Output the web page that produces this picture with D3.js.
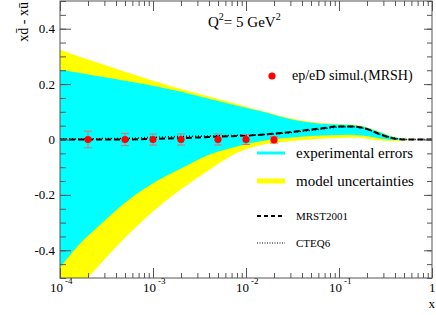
<!DOCTYPE html>
<html>
<head>
<meta charset="utf-8">
<script src="https://cdn.jsdelivr.net/npm/d3@7"></script>
<style>
body { margin: 0; background: #fff; }
svg text { font-family: "Times New Roman", "Liberation Serif", Times, serif; fill: #000; }
</style>
</head>
<body>
<script>
// x grid for bands and curves
var gridX = [1e-4, 1.6e-4, 2.5e-4, 5e-4, 1e-3, 2e-3, 4e-3, 8e-3, 1.6e-2, 3.2e-2, 6.3e-2, 0.1, 0.14, 0.2, 0.28, 0.4, 0.56, 0.8, 1];
var expUpper = [0.252, 0.241, 0.229, 0.212, 0.194, 0.172, 0.147, 0.122, 0.098, 0.071, 0.057, 0.054, 0.052, 0.042, 0.025, 0.007, 0.0005, 0, 0];
var expLower = [-0.462, -0.38, -0.318, -0.228, -0.158, -0.105, -0.055, -0.025, -0.004, 0.007, 0.014, 0.016, 0.017, 0.012, 0.004, -0.002, 0, 0, 0];
var modUpper = [0.324, 0.300, 0.278, 0.245, 0.212, 0.182, 0.155, 0.128, 0.1, 0.075, 0.06, 0.056, 0.054, 0.044, 0.027, 0.008, 0.001, 0, 0];
var modLower = [-0.61, -0.537, -0.463, -0.355, -0.26, -0.18, -0.11, -0.048, -0.017, -0.005, 0.003, 0.005, 0.007, 0.003, -0.004, -0.006, -0.002, 0, 0];
var mrst = [0, 0, 0, 0, 0.002, 0.005, 0.009, 0.013, 0.018, 0.028, 0.04, 0.047, 0.047, 0.038, 0.018, 0.003, 0, 0, 0];
var cteq = [0.002, 0.002, 0.003, 0.004, 0.008, 0.011, 0.013, 0.015, 0.018, 0.026, 0.037, 0.045, 0.046, 0.037, 0.018, 0.004, 0, 0, 0];

// simulated points
var pointX = [2e-4, 5e-4, 1e-3, 2e-3, 5e-3, 1e-2, 2e-2];
var pointY = [0, 0, 0, 0, 0, 0, -0.001];
var pointErr = [0.03, 0.022, 0.02, 0.02, 0.02, 0.018, 0.012];

var xMajor = [1e-4, 1e-3, 1e-2, 1e-1, 1];
var xLabelBase = ["10", "10", "10", "10", "1"];
var xLabelExp = ["-4", "-3", "-2", "-1", ""];
var yMajor = [-0.4, -0.2, 0, 0.2, 0.4];
var yLabels = ["-0.4", "-0.2", "0", "0.2", "0.4"];

function createChart() {
    var W = 436, H = 315;
    var left = 60, right = 432, top = 1, bottom = 278;

    var svg = d3.select("body").append("svg")
        .attr("width", W)
        .attr("height", H);

    var x = d3.scaleLog().domain([1e-4, 1]).range([left, right]);
    var y = d3.scaleLinear().domain([-0.5, 0.5]).range([bottom, top]);

    svg.append("clipPath").attr("id", "plot")
        .append("rect")
        .attr("x", left).attr("y", top)
        .attr("width", right - left).attr("height", bottom - top);

    var rows = gridX.map(function(d, i) {
        return {x: d, eu: expUpper[i], el: expLower[i], mu: modUpper[i], ml: modLower[i], m: mrst[i], c: cteq[i]};
    });

    var plot = svg.append("g").attr("clip-path", "url(#plot)");

    var area = function(lo, hi) {
        return d3.area()
            .x(function(d) { return x(d.x); })
            .y0(function(d) { return y(d[lo]); })
            .y1(function(d) { return y(d[hi]); })
            .curve(d3.curveMonotoneX);
    };

    plot.append("path").datum(rows)
        .attr("d", area("ml", "mu"))
        .attr("fill", "#ffff00");
    plot.append("path").datum(rows)
        .attr("d", area("el", "eu"))
        .attr("fill", "#00ffff");

    var line = function(key) {
        return d3.line()
            .x(function(d) { return x(d.x); })
            .y(function(d) { return y(d[key]); })
            .curve(d3.curveMonotoneX);
    };

    plot.append("path").datum(rows)
        .attr("d", line("c"))
        .attr("fill", "none")
        .attr("stroke", "#000")
        .attr("stroke-width", 1.5)
        .attr("stroke-dasharray", "1,2");
    plot.append("path").datum(rows)
        .attr("d", line("m"))
        .attr("fill", "none")
        .attr("stroke", "#000")
        .attr("stroke-width", 2)
        .attr("stroke-dasharray", "6,3");

    // error bars and points
    var pts = pointX.map(function(d, i) { return {x: d, y: pointY[i], e: pointErr[i]}; });
    var eb = plot.selectAll("g.pt").data(pts).enter().append("g").attr("class", "pt");
    eb.append("line")
        .attr("x1", function(d) { return x(d.x); })
        .attr("x2", function(d) { return x(d.x); })
        .attr("y1", function(d) { return y(d.y - d.e); })
        .attr("y2", function(d) { return y(d.y + d.e); })
        .attr("stroke", "#e07070");
    [-1, 1].forEach(function(s) {
        eb.append("line")
            .attr("x1", function(d) { return x(d.x) - 4; })
            .attr("x2", function(d) { return x(d.x) + 4; })
            .attr("y1", function(d) { return y(d.y + s * d.e); })
            .attr("y2", function(d) { return y(d.y + s * d.e); })
            .attr("stroke", "#e07070");
    });
    eb.append("circle")
        .attr("cx", function(d) { return x(d.x); })
        .attr("cy", function(d) { return y(d.y); })
        .attr("r", 3.6)
        .attr("fill", "#ff0000");

    // axes: ticks point inward
    var minorX = x.ticks().filter(function(t) { return xMajor.indexOf(t) < 0; });
    var yMinor = d3.range(-10, 11).map(function(i) { return i * 0.05; });

    var axes = [
        svg.append("g").attr("transform", "translate(0," + bottom + ")")
            .call(d3.axisBottom(x).tickValues(minorX).tickSize(-5).tickFormat("").tickSizeOuter(0)),
        svg.append("g").attr("transform", "translate(0," + bottom + ")")
            .call(d3.axisBottom(x).tickValues(xMajor).tickSize(-10).tickFormat("").tickSizeOuter(0)),
        svg.append("g").attr("transform", "translate(0," + top + ")")
            .call(d3.axisTop(x).tickValues(minorX).tickSize(-5).tickFormat("").tickSizeOuter(0)),
        svg.append("g").attr("transform", "translate(0," + top + ")")
            .call(d3.axisTop(x).tickValues(xMajor).tickSize(-10).tickFormat("").tickSizeOuter(0)),
        svg.append("g").attr("transform", "translate(" + left + ",0)")
            .call(d3.axisLeft(y).tickValues(yMinor).tickSize(-6).tickFormat("").tickSizeOuter(0)),
        svg.append("g").attr("transform", "translate(" + left + ",0)")
            .call(d3.axisLeft(y).tickValues(yMajor).tickSize(-11).tickFormat("").tickSizeOuter(0)),
        svg.append("g").attr("transform", "translate(" + right + ",0)")
            .call(d3.axisRight(y).tickValues(yMinor).tickSize(-5).tickFormat("").tickSizeOuter(0)),
        svg.append("g").attr("transform", "translate(" + right + ",0)")
            .call(d3.axisRight(y).tickValues(yMajor).tickSize(-8).tickFormat("").tickSizeOuter(0))
    ];
    axes.forEach(function(a) {
        a.select(".domain").remove();
        a.selectAll("line").attr("stroke", "#555");
    });

    svg.append("rect")
        .attr("x", left).attr("y", top)
        .attr("width", right - left).attr("height", bottom - top)
        .attr("fill", "none")
        .attr("stroke", "#555")
        .attr("stroke-width", 1);

    // tick labels
    xMajor.forEach(function(t, i) {
        var tx = svg.append("text")
            .attr("x", i < 4 ? x(t) - 10 : x(t) - 3)
            .attr("y", 292)
            .attr("font-size", 13);
        tx.append("tspan").text(xLabelBase[i]);
        if (xLabelExp[i]) {
            tx.append("tspan").attr("dx", 2).attr("dy", -8).attr("font-size", 9).text(xLabelExp[i]);
        }
    });
    yMajor.forEach(function(t, i) {
        svg.append("text")
            .attr("x", 55)
            .attr("y", y(t))
            .attr("dy", "0.35em")
            .attr("text-anchor", "end")
            .attr("font-size", 13)
            .text(yLabels[i]);
    });

    svg.append("text")
        .attr("x", 435).attr("y", 308)
        .attr("text-anchor", "end")
        .attr("font-size", 13)
        .text("x");
    svg.append("text")
        .attr("transform", "translate(28,2) rotate(-90)")
        .attr("text-anchor", "end")
        .attr("font-size", 14)
        .text("xd\u0304 - xu\u0304");

    // title
    var title = svg.append("text").attr("x", 208).attr("y", 27).attr("font-size", 15);
    title.append("tspan").text("Q");
    title.append("tspan").attr("dy", -7).attr("font-size", 10).text("2");
    title.append("tspan").attr("dy", 7).text("= 5 GeV");
    title.append("tspan").attr("dy", -7).attr("font-size", 10).text("2");

    // legend
    svg.append("circle").attr("cx", 272).attr("cy", 76).attr("r", 3.6).attr("fill", "#ff0000");
    svg.append("text").attr("x", 292).attr("y", 80).attr("font-size", 14).text("ep/eD simul.(MRSH)");

    svg.append("line").attr("x1", 257).attr("x2", 285).attr("y1", 153).attr("y2", 153)
        .attr("stroke", "#00ffff").attr("stroke-width", 3);
    svg.append("text").attr("x", 296).attr("y", 158).attr("font-size", 15).text("experimental errors");

    svg.append("line").attr("x1", 257).attr("x2", 285).attr("y1", 181).attr("y2", 181)
        .attr("stroke", "#ffff00").attr("stroke-width", 5);
    svg.append("text").attr("x", 296).attr("y", 186).attr("font-size", 15).text("model uncertainties");

    svg.append("line").attr("x1", 257).attr("x2", 285).attr("y1", 216).attr("y2", 216)
        .attr("stroke", "#000").attr("stroke-width", 2).attr("stroke-dasharray", "4,3");
    svg.append("text").attr("x", 296).attr("y", 219.5).attr("font-size", 11).text("MRST2001");

    svg.append("line").attr("x1", 257).attr("x2", 285).attr("y1", 243).attr("y2", 243)
        .attr("stroke", "#000").attr("stroke-width", 1.2).attr("stroke-dasharray", "1,1.5");
    svg.append("text").attr("x", 296).attr("y", 246.5).attr("font-size", 11).text("CTEQ6");
}

createChart();
</script>
</body>
</html>
